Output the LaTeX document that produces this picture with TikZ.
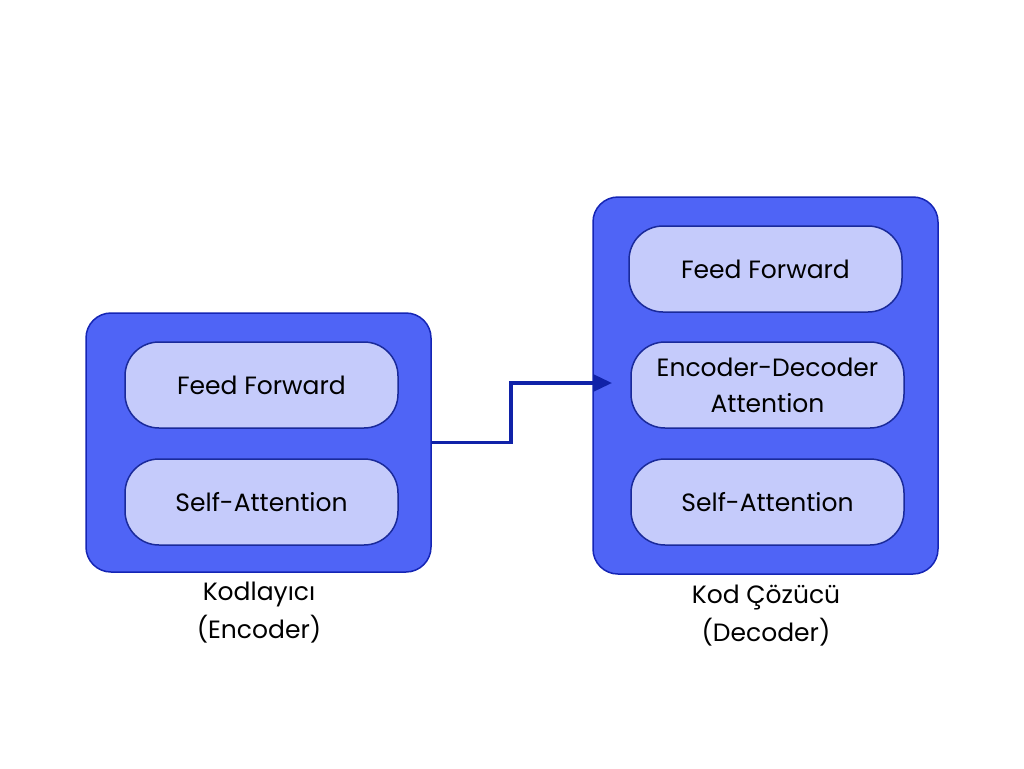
\documentclass[tikz,border=0pt]{standalone}
\usepackage{fontspec}
\setmainfont{Poppins}
\usetikzlibrary{arrows.meta}
\definecolor{outerfill}{HTML}{4F64F6}
\definecolor{outerdraw}{HTML}{1525B5}
\definecolor{innerfill}{HTML}{C5CBFB}
\definecolor{innerdraw}{HTML}{1A2A9A}
\definecolor{arrowcol}{HTML}{1022A8}
\tikzset{
  outerbox/.style={draw=outerdraw, fill=outerfill, line width=1.5pt, rounded corners=25pt, minimum width=345pt, inner sep=0pt},
  innerbox/.style={draw=innerdraw, fill=innerfill, line width=1.5pt, rounded corners=34pt, minimum width=273pt, minimum height=86pt, inner sep=0pt, align=center, font=\fontsize{25}{36}\selectfont},
  caption/.style={align=center, font=\fontsize{25}{38}\selectfont},
  conn/.style={draw=arrowcol, line width=3.5pt, -{Triangle[length=19pt,width=17pt]}}
}
\begin{document}
\begin{tikzpicture}[x=1pt,y=-1pt]
\useasboundingbox (0,0) rectangle (1024,768);
\fill[white] (0,0) rectangle (1024,768);
% encoder
\node[outerbox, minimum height=259pt] (enc) at (258.5,442.5) {};
\node[innerbox] (encff) at (261.5,385) {Feed Forward};
\node[innerbox] (encsa) at (261.5,502) {Self-Attention};
\node[caption] (enclab) at (259,613) {Kodlayıcı\\(Encoder)};
% decoder
\node[outerbox, minimum height=377pt] (dec) at (765.5,385.5) {};
\node[innerbox] (decff) at (765.5,269) {Feed Forward};
\node[innerbox] (deced) at (767.5,385) {Encoder-Decoder\\Attention};
\node[innerbox] (decsa) at (767.5,502) {Self-Attention};
\node[caption] (declab) at (766,616) {Kod Çözücü\\(Decoder)};
% connector
\coordinate (tip) at (612,383);
\draw[conn] (enc.east) -- (511,442.5) |- (tip);
\end{tikzpicture}
\end{document}
